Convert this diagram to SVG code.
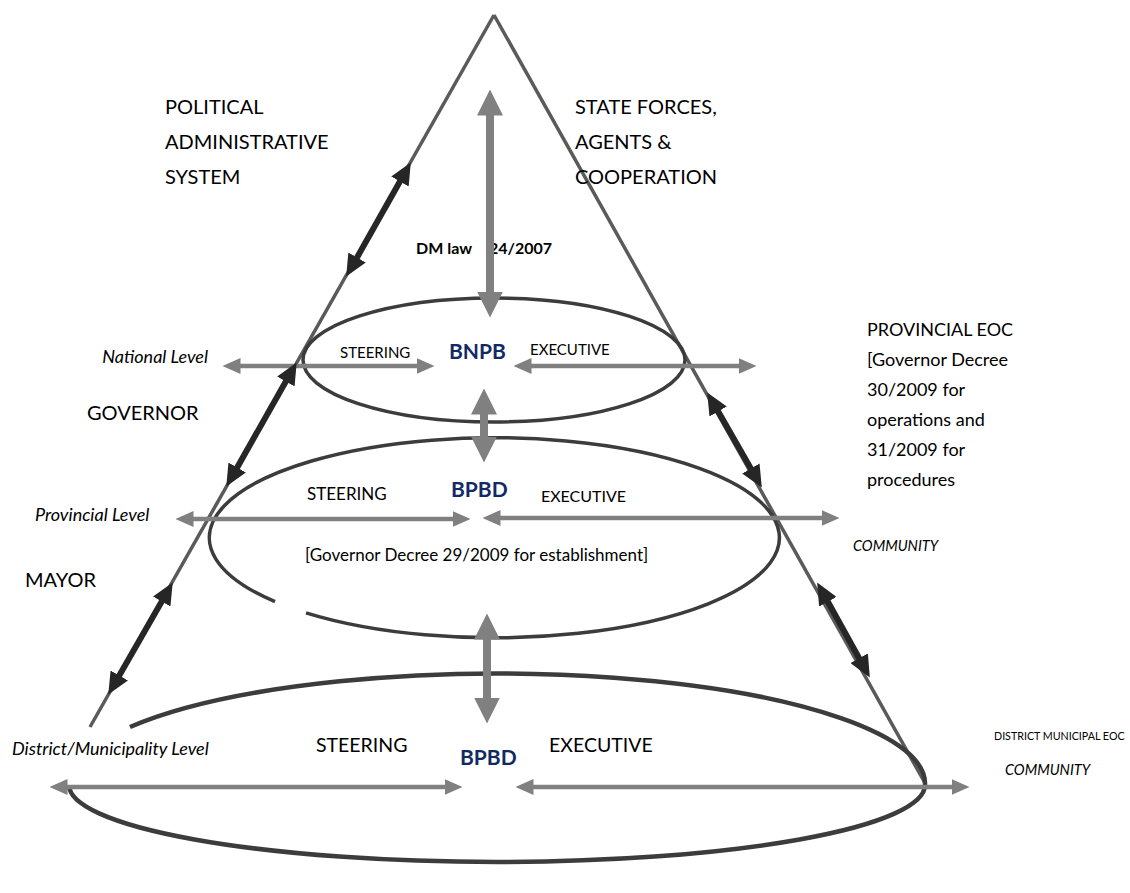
<svg xmlns="http://www.w3.org/2000/svg" width="1130" height="893" viewBox="0 0 1130 893">
<style>
text{font-family:Lato,"Liberation Sans",sans-serif;fill:#000}
.lg{font-size:20px}
.md{font-size:17px}
.lv{font-size:18px;font-style:italic}
.eoc{font-size:18px}
.sm{font-size:15px}
.cm{font-size:14.5px;font-style:italic}
.nav{font-weight:bold;fill:#112a66;font-size:21px}
.side{fill:none;stroke:#5a5a5a;stroke-width:3.5}
.ell{fill:none;stroke:#3c3c3c;stroke-width:3.5}
.ga{stroke:#808080;stroke-width:4.5}
.gv{stroke:#808080;stroke-width:8}
.ba{stroke:#262626;stroke-width:6}
</style>
<defs>
<marker id="mh" markerUnits="userSpaceOnUse" markerWidth="18" markerHeight="16" viewBox="0 0 18 16" refX="0.5" refY="8" orient="auto-start-reverse"><path d="M0,0 L18,8 L0,16 z" fill="#808080"/></marker>
<marker id="mv" markerUnits="userSpaceOnUse" markerWidth="26" markerHeight="26" viewBox="0 0 26 26" refX="0.5" refY="13" orient="auto-start-reverse"><path d="M0,0 L26,13 L0,26 z" fill="#808080"/></marker>
<marker id="mb" markerUnits="userSpaceOnUse" markerWidth="22" markerHeight="20" viewBox="0 0 22 20" refX="0.5" refY="10" orient="auto-start-reverse"><path d="M0,0 L22,10 L0,20 z" fill="#262626"/></marker>
</defs>
<rect width="1130" height="893" fill="#fff"/>

<g id="pyramid">
<line class="side" x1="494" y1="15" x2="90" y2="727"/>
<line class="side" x1="494" y1="15" x2="925" y2="783"/>
</g>

<g id="titles">
<text class="lg" x="165" y="114">POLITICAL</text>
<text class="lg" x="165" y="149">ADMINISTRATIVE</text>
<text class="lg" x="165" y="184">SYSTEM</text>
<text class="lg" x="575" y="114">STATE FORCES,</text>
<text class="lg" x="575" y="149">AGENTS &amp;</text>
<text class="lg" x="575" y="184">COOPERATION</text>
<text x="416" y="254" style="font-size:16px;font-weight:bold">DM law<tspan x="489">24/2007</tspan></text>
</g>

<g id="national">
<ellipse class="ell" cx="494" cy="360" rx="191" ry="62"/>
<text class="sm" x="340" y="358">STEERING</text>
<text class="nav" x="449" y="359">BNPB</text>
<text class="sm" x="530" y="355">EXECUTIVE</text>
<text class="lv" x="208" y="363" text-anchor="end">National Level</text>
<text class="lg" x="87" y="420">GOVERNOR</text>
</g>

<g id="provincial">
<path class="ell" d="M275,601.6 A285,100 0 1 1 306,612.8"/>
<text class="md" x="307" y="500">STEERING</text>
<text class="nav" x="451" y="497">BPBD</text>
<text style="font-size:16px" x="541" y="502">EXECUTIVE</text>
<text class="md" x="305" y="561">[Governor Decree 29/2009 for establishment]</text>
<text class="lv" x="35" y="521">Provincial Level</text>
<text class="lg" x="25" y="587">MAYOR</text>
</g>

<g id="provincial-eoc">
<text class="eoc" x="867" y="336">PROVINCIAL EOC</text>
<text class="eoc" x="867" y="366">[Governor Decree</text>
<text class="eoc" x="867" y="396">30/2009 for</text>
<text class="eoc" x="867" y="426">operations and</text>
<text class="eoc" x="867" y="456">31/2009 for</text>
<text class="eoc" x="867" y="486">procedures</text>
<text class="cm" x="853" y="551">COMMUNITY</text>
</g>

<g id="district">
<path class="ell" style="stroke-width:4.5" d="M130,727 A428,110 0 0 1 925,785 A428,77 0 0 1 69,785"/>
<text class="lv" x="12" y="755">District/Municipality Level</text>
<text style="font-size:19.5px" x="316" y="752">STEERING</text>
<text class="nav" x="460" y="765">BPBD</text>
<text style="font-size:19.5px" x="549" y="752">EXECUTIVE</text>
<text x="994" y="740" style="font-size:10.7px">DISTRICT MUNICIPAL EOC</text>
<text class="cm" x="1005" y="775">COMMUNITY</text>
</g>

<g id="connectors">
<line class="gv" x1="490" y1="115" x2="490" y2="292" marker-start="url(#mv)" marker-end="url(#mv)"/>
<line class="gv" x1="484" y1="414" x2="484" y2="437" marker-start="url(#mv)" marker-end="url(#mv)"/>
<line class="gv" x1="487" y1="639" x2="487" y2="698" marker-start="url(#mv)" marker-end="url(#mv)"/>
<line class="ga" x1="240" y1="366" x2="417" y2="366" marker-start="url(#mh)" marker-end="url(#mh)"/>
<line class="ga" x1="531" y1="366" x2="739" y2="366" marker-start="url(#mh)" marker-end="url(#mh)"/>
<line class="ga" x1="193" y1="519" x2="453" y2="519" marker-start="url(#mh)" marker-end="url(#mh)"/>
<line class="ga" x1="500" y1="518" x2="822" y2="518" marker-start="url(#mh)" marker-end="url(#mh)"/>
<line class="ga" x1="67" y1="787" x2="445" y2="787" marker-start="url(#mh)" marker-end="url(#mh)"/>
<line class="ga" x1="533" y1="787" x2="952" y2="787" marker-start="url(#mh)" marker-end="url(#mh)"/>
<line class="ba" x1="400.2" y1="181.1" x2="356.8" y2="257.9" marker-start="url(#mb)" marker-end="url(#mb)"/>
<line class="ba" x1="286.1" y1="381.1" x2="236.9" y2="467.9" marker-start="url(#mb)" marker-end="url(#mb)"/>
<line class="ba" x1="162" y1="601.1" x2="119" y2="675.9" marker-start="url(#mb)" marker-end="url(#mb)"/>
<line class="ba" x1="717.9" y1="411.1" x2="751.1" y2="468.9" marker-start="url(#mb)" marker-end="url(#mb)"/>
<line class="ba" x1="827.6" y1="601.3" x2="859.4" y2="658.7" marker-start="url(#mb)" marker-end="url(#mb)"/>
</g>
</svg>
